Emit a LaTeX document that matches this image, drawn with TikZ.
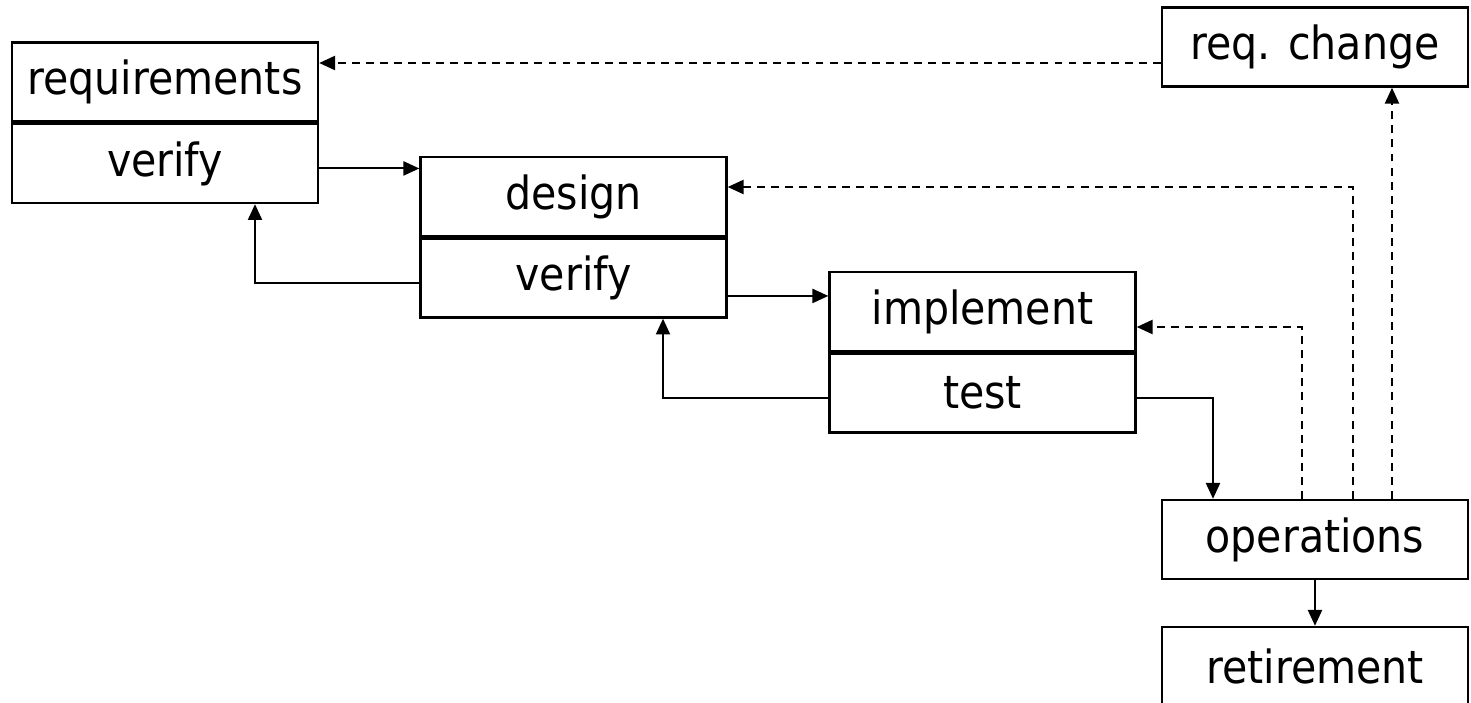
\documentclass[tikz,border=0pt]{standalone}
\usepackage{fontspec}
\setmainfont{DejaVu Sans Condensed}
\usetikzlibrary{arrows.meta}
\usetikzlibrary{calc}
\usetikzlibrary{positioning}

\begin{document}
\begin{tikzpicture}[x=0.02cm, y=-0.02cm,
		box/.style={draw, line width=1.4pt, minimum width=6.12cm, minimum height=1.58cm,
			inner sep=0pt, font=\fontsize{26}{30}\selectfont},
		flow/.style={line width=1.1pt, -{Triangle[length=9pt, width=8pt]}},
		back/.style={flow, dash pattern=on 4.5pt off 3.5pt}]
		\useasboundingbox (0, 0) rectangle (1471, 703);
		% phases, each with its check below
		\node[box] (req) at (165, 82) {requirements};
		\node[box, below=0pt of req] (reqchk) {verify};
		\node[box] (des) at (573.5, 196.5) {design};
		\node[box, below=0pt of des] (deschk) {verify};
		\node[box] (impl) at (982.5, 311.5) {implement};
		\node[box, below=0pt of impl] (test) {test};
		\node[box] (chg) at (1315, 47) {req. change};
		\node[box] (ops) at (1315, 539.5) {operations};
		\node[box] (ret) at (1315, 666.5) {retirement};
		% forward flow
		\draw[flow] ($(reqchk.east)+(0, 5)$) -- ($(des.west |- reqchk.east)+(0, 5)$);
		\draw[flow] ($(deschk.east)+(0, 18)$) -- ($(impl.west |- deschk.east)+(0, 18)$);
		\draw[flow] ($(test.east)+(0, 5)$) -| ($(ops.north)+(-102, 0)$);
		\draw[flow] (ops.south) -- (ret.north);
		% feedback to the previous phase
		\draw[flow] ($(deschk.west)+(0, 5)$) -| ($(reqchk.south)+(90, 0)$);
		\draw[flow] ($(test.west)+(0, 5)$) -| ($(deschk.south)+(89.5, 0)$);
		% changes from operations
		\draw[back] ($(ops.north)+(-13, 0)$) |- ($(impl.east)+(0, 15.5)$);
		\draw[back] ($(ops.north)+(38, 0)$) |- ($(des.east)+(0, -9.5)$);
		\draw[back] ($(ops.north)+(77, 0)$) -- ($(chg.south)+(77, 0)$);
		\draw[back] ($(chg.west)+(0, 16)$) -- ($(req.east |- chg.west)+(0, 16)$);
	\end{tikzpicture}
\end{document}
